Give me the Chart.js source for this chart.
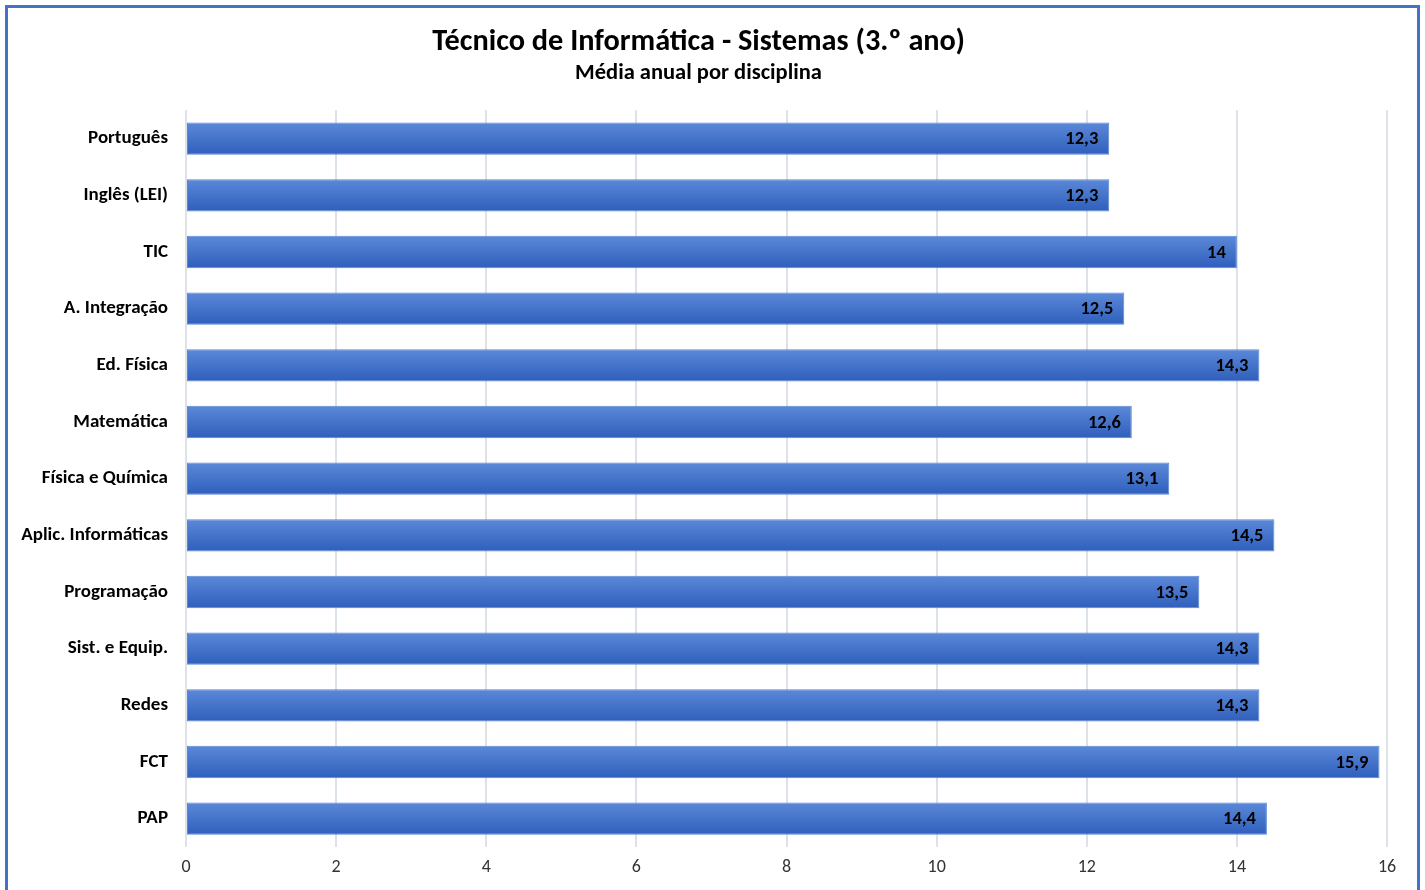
<!DOCTYPE html>
<html>
<head>
<meta charset="utf-8">
<script src="https://cdn.jsdelivr.net/npm/chart.js@4.4.1/dist/chart.umd.min.js"></script>
<style>
  html, body { margin: 0; padding: 0; background: #fff; overflow: hidden; }
  #wrap { position: relative; width: 1425px; height: 890px; }
  #frame { position: absolute; left: 5px; top: 5px; width: 1409px; height: 900px; border: 3px solid #4472C4; pointer-events: none; box-sizing: content-box; }
  canvas { position: absolute; left: 0; top: 0; }
</style>
</head>
<body>
<div id="wrap">
  <canvas id="c" width="1425" height="890"></canvas>
  <div id="frame"></div>
</div>
<script>
const categories = ["Português", "Inglês (LEI)", "TIC", "A. Integração", "Ed. Física", "Matemática", "Física e Química", "Aplic. Informáticas", "Programação", "Sist. e Equip.", "Redes", "FCT", "PAP"];
const values = [12.3, 12.3, 14, 12.5, 14.3, 12.6, 13.1, 14.5, 13.5, 14.3, 14.3, 15.9, 14.4];
const titleText = "Técnico de Informática - Sistemas (3.º ano)";
const subtitleText = "Média anual por disciplina";
const xMin = 0, xMax = 16, xStep = 2;

const FONT = "Carlito, Lato, 'Open Sans', sans-serif";

function barFill(ctx) {
  const chart = ctx.chart;
  const y = chart.scales && chart.scales.y;
  if (!chart.chartArea || !y || ctx.dataIndex === undefined) return '#3f6fcb';
  const c = y.getPixelForValue(ctx.dataIndex);
  const h = 16;
  const g = chart.ctx.createLinearGradient(0, c - h, 0, c + h);
  g.addColorStop(0, '#5b88d8');
  g.addColorStop(1, '#2f5fbc');
  return g;
}

const valueLabels = {
  id: 'valueLabels',
  afterDatasetsDraw(chart) {
    const ctx = chart.ctx;
    const meta = chart.getDatasetMeta(0);
    ctx.save();
    ctx.font = "bold 18.5px " + FONT;
    ctx.fillStyle = '#000';
    ctx.textAlign = 'right';
    ctx.textBaseline = 'middle';
    meta.data.forEach((bar, i) => {
      const txt = String(values[i]).replace('.', ',');
      ctx.fillText(txt, bar.x - 11, bar.y + 1);
    });
    ctx.restore();
  }
};

new Chart(document.getElementById('c'), {
  type: 'bar',
  data: {
    labels: categories,
    datasets: [{
      data: values,
      backgroundColor: barFill,
      borderColor: '#5a86d4',
      borderWidth: 1,
      borderSkipped: false,
      barPercentage: 0.57,
      categoryPercentage: 1.0
    }]
  },
  options: {
    indexAxis: 'y',
    responsive: false,
    animation: false,
    devicePixelRatio: 1,
    layout: { padding: { left: 10, right: 38, top: 0, bottom: 0 } },
    plugins: {
      legend: { display: false },
      tooltip: { enabled: false },
      title: {
        display: true,
        text: titleText,
        color: '#000',
        font: { family: FONT, size: 30.3, weight: 'bold', lineHeight: 1.15 },
        padding: { top: 25, bottom: 0 }
      },
      subtitle: {
        display: true,
        text: subtitleText,
        color: '#000',
        font: { family: FONT, size: 22.5, weight: 'bold', lineHeight: 1.2 },
        padding: { top: 0, bottom: 23.5 }
      }
    },
    scales: {
      x: {
        min: xMin, max: xMax,
        ticks: { stepSize: xStep, color: '#333', font: { family: FONT, size: 18 }, padding: 10 },
        grid: { color: '#dde2e9', lineWidth: 2, drawTicks: false },
        border: { display: false },
        afterFit(scale) { scale.height = 43; }
      },
      y: {
        ticks: { color: '#000', font: { family: FONT, size: 19, weight: 'bold' }, padding: 18 },
        grid: { display: false, drawTicks: false },
        border: { display: false },
        afterFit(scale) { scale.width = 176; }
      }
    }
  },
  plugins: [valueLabels]
});
</script>
</body>
</html>
